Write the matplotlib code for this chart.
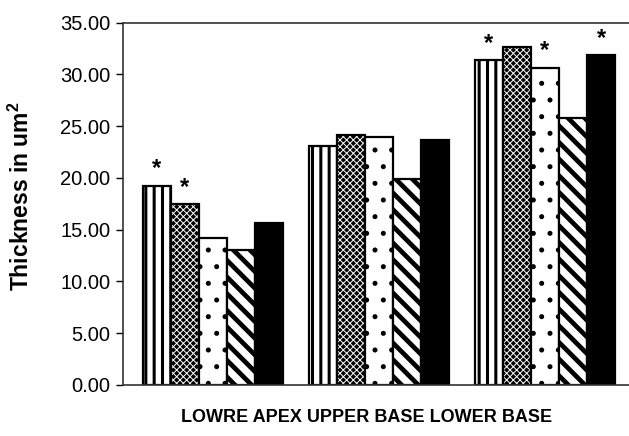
import numpy as np
import matplotlib
matplotlib.use("Agg")
import matplotlib.pyplot as plt

# --- data ---
regioes = ["LOWRE APEX", "UPPER BASE", "LOWER BASE"]
serie_1 = [19.26, 23.12, 31.37]   # vertical stripes
serie_2 = [17.46, 24.15, 32.69]   # checkered
serie_3 = [14.23, 23.93, 30.66]   # dots
serie_4 = [13.04, 19.90, 25.77]   # diagonal stripes
serie_5 = [15.62, 23.67, 31.88]   # solid black
# asterisks: (series index, group index)
significativos = [(0, 0), (1, 0), (0, 2), (2, 2), (4, 2)]

yticks = np.arange(0, 35.01, 5)

plt.rcParams['font.family'] = ['Liberation Sans', 'DejaVu Sans']

fig = plt.figure(figsize=(6.29, 4.36), dpi=100)
ax = fig.add_axes([0.1955, 0.117, 0.8045, 0.831])

x = np.arange(len(regioes))
largura = 0.169
series = [serie_1, serie_2, serie_3, serie_4, serie_5]

for i, valores in enumerate(series):
    pos = x + (i - 2) * largura
    if i == 0:
        with plt.rc_context({'hatch.linewidth': 2.2}):
            ax.bar(pos, valores, largura, facecolor='white', edgecolor='black',
                   hatch='||', linewidth=1.6)
    elif i == 1:
        with plt.rc_context({'hatch.linewidth': 0.7}):
            ax.bar(pos, valores, largura, facecolor='black', edgecolor='white',
                   hatch='xxxxx', linewidth=0)
        ax.bar(pos, valores, largura, fill=False, edgecolor='black', linewidth=1.6)
    elif i == 2:
        with plt.rc_context({'hatch.linewidth': 1.2}):
            ax.bar(pos, valores, largura, facecolor='white', edgecolor='black',
                   hatch='.', linewidth=1.6)
    elif i == 3:
        with plt.rc_context({'hatch.linewidth': 3.4}):
            ax.bar(pos, valores, largura, facecolor='white', edgecolor='black',
                   hatch='\\\\', linewidth=1.6)
    else:
        ax.bar(pos, valores, largura, facecolor='black', edgecolor='black',
               linewidth=1.6)

for s, g in significativos:
    ax.text(x[g] + (s - 2) * largura, series[s][g] + 0.5, '*',
            ha='center', va='bottom', fontsize=17, fontweight='bold')

ax.set_xlim(-0.542, 2.506)
ax.set_ylim(0, 35)
ax.set_yticks(yticks)
ax.set_yticklabels([f"{v:.2f}" for v in yticks], fontsize=14.5)
ax.set_xticks([])
ax.tick_params(axis='y', direction='out', length=5, width=1, pad=4)

ax.spines['right'].set_visible(False)
for lado in ['left', 'top', 'bottom']:
    ax.spines[lado].set_linewidth(1.2)
    ax.spines[lado].set_color('#333333')

ax.set_ylabel('Thickness in um$^\\mathregular{2}$', fontsize=16.5, fontweight='bold')
ax.yaxis.set_label_coords(-0.176, 0.522)
fig.text(0.582, 0.043, " ".join(regioes), ha='center', va='center',
         fontsize=13, fontweight='bold')

fig.savefig('out.png', dpi=100)
